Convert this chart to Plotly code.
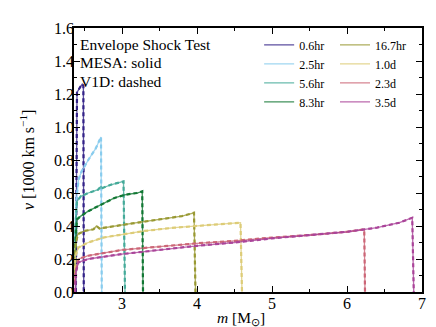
import plotly.graph_objects as go

# mass coordinate [Msun] and velocity [1000 km/s] for each snapshot
labels = ["0.6hr", "2.5hr", "5.6hr", "8.3hr", "16.7hr", "1.0d", "2.3d", "3.5d"]
colors = ["#332288", "#88CCEE", "#44AA99", "#117733", "#999933", "#DDCC77", "#CC6677", "#AA4499"]

m_06hr = [2.385, 2.395, 2.40, 2.44, 2.47, 2.485, 2.49]
v_06hr = [0.0, 0.80, 1.21, 1.24, 1.26, 1.25, 0.0]

m_25hr = [2.375, 2.39, 2.42, 2.46, 2.55, 2.65, 2.72, 2.73]
v_25hr = [0.30, 0.55, 0.68, 0.73, 0.80, 0.87, 0.94, 0.0]

m_56hr = [2.37, 2.38, 2.40, 2.45, 2.55, 2.68, 2.72, 2.74, 2.85, 2.95, 3.02, 3.04]
v_56hr = [0.10, 0.40, 0.55, 0.58, 0.60, 0.62, 0.64, 0.63, 0.65, 0.66, 0.67, 0.0]

m_83hr = [2.37, 2.38, 2.40, 2.45, 2.55, 2.72, 2.90, 3.05, 3.20, 3.27, 3.28]
v_83hr = [0.10, 0.30, 0.44, 0.46, 0.49, 0.53, 0.57, 0.59, 0.60, 0.61, 0.0]

m_167hr = [2.37, 2.38, 2.41, 2.50, 2.62, 2.66, 2.70, 2.90, 3.20, 3.50, 3.80, 3.96, 3.98]
v_167hr = [0.10, 0.28, 0.35, 0.37, 0.38, 0.40, 0.385, 0.40, 0.42, 0.44, 0.46, 0.48, 0.0]

m_10d = [2.37, 2.38, 2.42, 2.55, 2.75, 3.00, 3.30, 3.70, 4.00, 4.30, 4.58, 4.60]
v_10d = [0.05, 0.22, 0.27, 0.30, 0.33, 0.35, 0.37, 0.39, 0.40, 0.41, 0.42, 0.0]

m_23d = [2.37, 2.38, 2.42, 2.55, 3.00, 3.50, 4.00, 4.50, 5.00, 5.50, 6.00, 6.23, 6.24]
v_23d = [0.05, 0.12, 0.20, 0.22, 0.255, 0.275, 0.295, 0.31, 0.33, 0.345, 0.365, 0.38, 0.0]

m_35d = [2.375, 2.385, 2.42, 2.55, 3.00, 3.50, 4.00, 4.50, 5.00, 5.50, 6.00, 6.40, 6.70, 6.87, 6.89]
v_35d = [0.0, 0.12, 0.18, 0.20, 0.23, 0.255, 0.28, 0.30, 0.325, 0.345, 0.365, 0.39, 0.42, 0.45, 0.0]

masses = [m_06hr, m_25hr, m_56hr, m_83hr, m_167hr, m_10d, m_23d, m_35d]
vels = [v_06hr, v_25hr, v_56hr, v_83hr, v_167hr, v_10d, v_23d, v_35d]

info_lines = ["Envelope Shock Test", "MESA: solid", "V1D: dashed"]

serif = "Liberation Serif, Times New Roman, serif"

fig = go.Figure()
for i, (lab, col, m, v) in enumerate(zip(labels, colors, masses, vels)):
    # MESA solid
    fig.add_trace(go.Scatter(
        x=m, y=v, mode="lines", name=lab,
        line=dict(color=col, width=1.3),
        opacity=0.8,
        legend="legend" if i < 4 else "legend2",
    ))
    # V1D dashed
    fig.add_trace(go.Scatter(
        x=m, y=v, mode="lines", showlegend=False,
        line=dict(color=col, width=2.2, dash="4px,3px"),
    ))

axis_common = dict(
    showline=True, linecolor="black", linewidth=1.5, mirror="ticks",
    ticks="inside", ticklen=6, tickwidth=1.2, tickcolor="black",
    showgrid=False, zeroline=False,
    tickfont=dict(family=serif, size=16, color="black"),
)

legend_common = dict(
    xanchor="left", yanchor="top", bgcolor="rgba(0,0,0,0)",
    font=dict(family=serif, size=12, color="black"),
    tracegroupgap=0, itemwidth=30,
)

annotations = []
for line, yy in zip(info_lines, [0.9366, 0.8675, 0.7985]):
    annotations.append(dict(
        x=0.012, y=yy, xref="paper", yref="paper", xanchor="left", yanchor="middle",
        text=line, showarrow=False,
        font=dict(family=serif, size=15.5, color="black"),
    ))
annotations.append(dict(
    x=0.48, y=-0.1, xref="paper", yref="paper", xanchor="center", yanchor="middle",
    text="<i>m</i> [M<sub>⊙</sub>]", showarrow=False,
    font=dict(family=serif, size=15.5, color="black"),
))
annotations.append(dict(
    x=-0.135, y=0.5, xref="paper", yref="paper", xanchor="center", yanchor="middle",
    text="<i>v</i> [1000 km s<sup>−1</sup>]", showarrow=False, textangle=-90,
    font=dict(family=serif, size=16, color="black"),
))

fig.update_layout(
    width=436, height=327,
    margin=dict(l=66, r=22, t=16, b=43),
    paper_bgcolor="white", plot_bgcolor="white",
    font=dict(family=serif, color="black"),
    xaxis=dict(
        range=[2.36, 7.0], tickvals=[3, 4, 5, 6, 7], ticklabelstandoff=-4,
        minor=dict(dtick=0.5, ticks="inside", ticklen=3, tickcolor="black"),
        **axis_common,
    ),
    yaxis=dict(
        range=[0, 1.6], dtick=0.2, tickformat=".1f", ticklabelstandoff=-5,
        minor=dict(dtick=0.1, ticks="inside", ticklen=3, tickcolor="black"),
        **axis_common,
    ),
    legend=dict(x=0.532, y=0.991, **legend_common),
    legend2=dict(x=0.750, y=0.991, **legend_common),
    annotations=annotations,
)

fig.write_html("out.html")
